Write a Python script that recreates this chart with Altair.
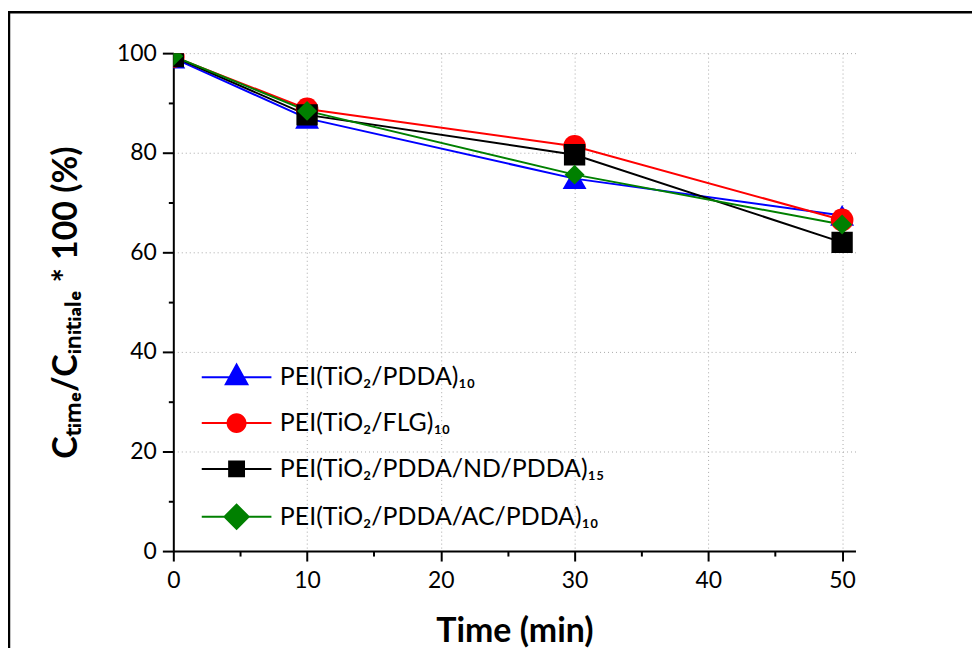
import altair as alt
import pandas as pd

time_min = [0, 10, 30, 50]
series_names = [
    "PEI(TiO₂/PDDA)₁₀",
    "PEI(TiO₂/FLG)₁₀",
    "PEI(TiO₂/PDDA/ND/PDDA)₁₅",
    "PEI(TiO₂/PDDA/AC/PDDA)₁₀",
]
blue_vals = [99.0, 86.9, 74.8, 67.4]
red_vals = [99.3, 88.8, 81.3, 66.5]
black_vals = [99.3, 87.6, 79.6, 62.0]
green_vals = [99.4, 88.4, 75.6, 65.6]
colors = ["#0000ff", "#ff0000", "#000000", "#008000"]
marker_shapes = ["triangle-up", "circle", "square", "diamond"]
marker_sizes = [576, 400, 300, 729]
x_ticks = list(range(0, 51, 5))
y_ticks = list(range(0, 101, 10))

# legend symbols: line segment + marker (unit = sqrt(symbolSize)/2 px)
c = -2.27
line_part = "M-5.45,-0.09H0.91V0.09H-5.45Z"
legend_paths = [
    line_part + f"M{c},-1.36L{c+1.14},0.73L{c-1.14},0.73Z",
    line_part + f"M{c+0.91},0A0.91,0.91,0,1,1,{c-0.91},0A0.91,0.91,0,1,1,{c+0.91},0Z",
    line_part + f"M{c-0.77},-0.77H{c+0.77}V0.77H{c-0.77}Z",
    line_part + f"M{c},-1.23L{c+1.23},0L{c},1.23L{c-1.23},0Z",
]

rows = []
for i, (name, vals) in enumerate(zip(series_names, [blue_vals, red_vals, black_vals, green_vals])):
    for t, v in zip(time_min, vals):
        rows.append({"series": name, "time": t, "value": v, "idx": i})
df = pd.DataFrame(rows)

FONT = "Lato"

x_enc = alt.X(
    "time:Q",
    scale=alt.Scale(domain=[0, 51], nice=False, zero=False),
    axis=alt.Axis(
        title="Time (min)",
        values=x_ticks,
        labelExpr="datum.value % 10 === 0 ? datum.label : ''",
        tickSize={"condition": {"test": "datum.value % 10 === 0", "value": 10}, "value": 5},
        gridOpacity={"condition": {"test": "datum.value % 10 === 0 && datum.value > 0", "value": 1}, "value": 0},
        labelPadding=9,
        titlePadding=22,
        labelFlush=False,
    ),
)
y_enc = alt.Y(
    "value:Q",
    scale=alt.Scale(domain=[0, 100], nice=False),
    axis=alt.Axis(
        title="Cₜᵢₘₑ/Cᵢₙᵢₜᵢₐₗₑ * 100 (%)",
        values=y_ticks,
        labelExpr="datum.value % 20 === 0 ? datum.label : ''",
        tickSize={"condition": {"test": "datum.value % 20 === 0", "value": 11}, "value": 5},
        gridOpacity={"condition": {"test": "datum.value % 20 === 0 && datum.value > 0", "value": 1}, "value": 0},
        labelPadding=6,
        titlePadding=33,
        labelFlush=False,
    ),
)

base = alt.Chart(df)

lines = base.mark_line(strokeWidth=2, clip=True).encode(
    x=x_enc,
    y=y_enc,
    color=alt.Color("series:N", scale=alt.Scale(domain=series_names, range=colors), legend=None),
    order=alt.Order("time:Q"),
)

points = base.mark_point(filled=True, opacity=1, strokeWidth=0, clip=True).encode(
    x=x_enc,
    y=y_enc,
    color=alt.Color("series:N", scale=alt.Scale(domain=series_names, range=colors), legend=None),
    shape=alt.Shape("series:N", scale=alt.Scale(domain=series_names, range=marker_shapes), legend=None),
    size=alt.Size("series:N", scale=alt.Scale(domain=series_names, range=marker_sizes), legend=None),
    order=alt.Order("idx:Q"),
)

legend_props = dict(
    title=None,
    orient="none",
    legendX=76,
    legendY=313,
    labelFont=FONT,
    labelFontSize=25,
    labelColor="black",
    labelOffset=6,
    labelLimit=0,
    symbolSize=484,
    symbolStrokeWidth=0,
    rowPadding=20,
    padding=0,
)

legend_layer = base.mark_point(filled=True, opacity=1, clip=True).encode(
    x=x_enc,
    y=y_enc,
    color=alt.Color("series:N", scale=alt.Scale(domain=series_names, range=colors), legend=alt.Legend(**legend_props)),
    shape=alt.Shape("series:N", scale=alt.Scale(domain=series_names, range=legend_paths), legend=alt.Legend(**legend_props)),
).transform_filter("datum.time < 0")

frame = alt.Chart(alt.Data(values=[{"k": 1}])).mark_rect(
    fill="transparent", stroke="black", strokeWidth=2.5, clip=False
).encode(
    x=alt.value(-165), x2=alt.value(900), y=alt.value(-41), y2=alt.value(700)
)

chart = (
    alt.layer(frame, lines, points, legend_layer)
    .resolve_scale(color="independent", shape="independent")
    .properties(
        width=685,
        height=500,
        autosize=alt.AutoSizeParams(type="none"),
        padding={"left": 166, "top": 44, "right": 117, "bottom": 96},
        background="white",
    )
    .configure_view(stroke=None)
    .configure_axis(
        domainColor="black",
        domainWidth=2,
        tickColor="black",
        tickWidth=2,
        gridColor="#a8a8a8",
        gridDash=[1, 3],
        gridWidth=1,
        labelFont=FONT,
        labelFontSize=23,
        labelColor="black",
        titleFont=FONT,
        titleFontSize=34,
        titleFontWeight="bold",
        titleColor="black",
    )
)

chart.save("out.html", embed_options={"renderer": "svg", "actions": False})
